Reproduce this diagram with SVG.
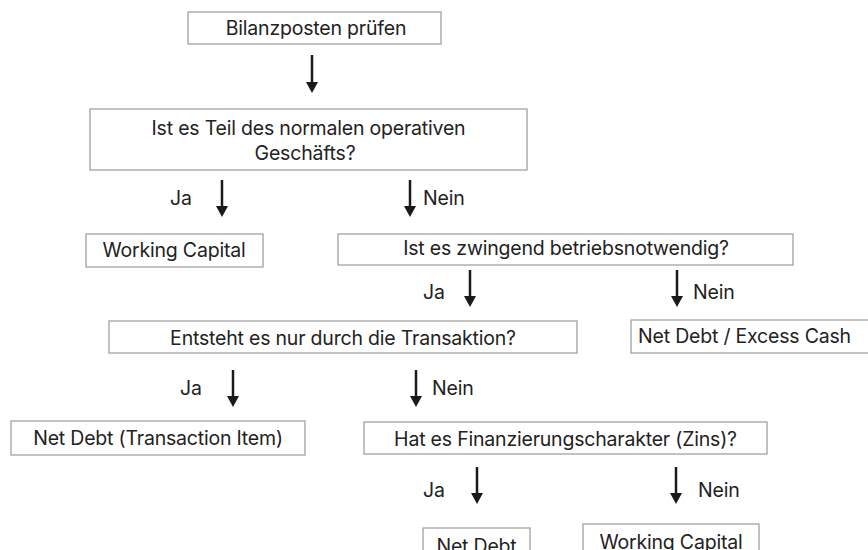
<svg xmlns="http://www.w3.org/2000/svg" width="868" height="550" viewBox="0 0 868 550">
<defs>
<style>
.box{fill:#fff;stroke:#9a9a9a;stroke-width:1.2}
.t{font-family:Inter,"Liberation Sans",Arial,sans-serif;font-size:19.5px;fill:#222;text-anchor:middle;letter-spacing:-0.2px}
.l{font-family:Inter,"Liberation Sans",Arial,sans-serif;font-size:19.5px;fill:#222;letter-spacing:-0.2px}
.a{stroke:#1a1a1a;stroke-width:2.5;fill:none}
.h{fill:#1a1a1a}
</style>
</defs>
<rect width="868" height="550" fill="#fff"/>
<g id="connectors">
<path class="a" d="M312,55 V83"/><path class="h" d="M306,82 H318 L312,93 Z"/>
<path class="a" d="M222,180 V207"/><path class="h" d="M216,206 H228 L222,217 Z"/>
<path class="a" d="M410,180 V207"/><path class="h" d="M404,206 H416 L410,217 Z"/>
<path class="a" d="M470,270 V297"/><path class="h" d="M464,296 H476 L470,307 Z"/>
<path class="a" d="M677,270 V297"/><path class="h" d="M671,296 H683 L677,307 Z"/>
<path class="a" d="M233,370 V397"/><path class="h" d="M227,396 H239 L233,407 Z"/>
<path class="a" d="M416,370 V397"/><path class="h" d="M410,396 H422 L416,407 Z"/>
<path class="a" d="M477,467 V494"/><path class="h" d="M471,493 H483 L477,504 Z"/>
<path class="a" d="M676,467 V494"/><path class="h" d="M670,493 H682 L676,504 Z"/>
<text class="l" x="170" y="205">Ja</text>
<text class="l" x="423" y="205">Nein</text>
<text class="l" x="423" y="299">Ja</text>
<text class="l" x="693" y="299">Nein</text>
<text class="l" x="180" y="395">Ja</text>
<text class="l" x="432" y="395">Nein</text>
<text class="l" x="423" y="497">Ja</text>
<text class="l" x="698" y="497">Nein</text>
</g>
<g id="start">
<rect class="box" x="188" y="12" width="253" height="32"/>
<text class="t" x="316" y="35">Bilanzposten prüfen</text>
</g>
<g id="q1">
<rect class="box" x="90" y="109" width="437" height="61"/>
<text class="t" x="308.5" y="135">Ist es Teil des normalen operativen</text>
<text class="t" x="305" y="160">Geschäfts?</text>
</g>
<g id="wc1">
<rect class="box" x="86" y="234" width="177" height="33"/>
<text class="t" x="174" y="257">Working Capital</text>
</g>
<g id="q2">
<rect class="box" x="338" y="234" width="455" height="31"/>
<text class="t" x="566" y="255">Ist es zwingend betriebsnotwendig?</text>
</g>
<g id="q3">
<rect class="box" x="109" y="321" width="468" height="32"/>
<text class="t" x="343" y="345">Entsteht es nur durch die Transaktion?</text>
</g>
<g id="nd-excess">
<rect class="box" x="631" y="320" width="250" height="33"/>
<text class="t" x="744.5" y="343">Net Debt / Excess Cash</text>
</g>
<g id="nd-ti">
<rect class="box" x="11" y="421" width="294" height="34"/>
<text class="t" x="158" y="445">Net Debt (Transaction Item)</text>
</g>
<g id="q4">
<rect class="box" x="364" y="422" width="403" height="32"/>
<text class="t" x="565.5" y="446">Hat es Finanzierungscharakter (Zins)?</text>
</g>
<g id="nd">
<rect class="box" x="423" y="528" width="107" height="34"/>
<text class="t" x="476.5" y="553">Net Debt</text>
</g>
<g id="wc2">
<rect class="box" x="583" y="524" width="176" height="34"/>
<text class="t" x="671" y="549">Working Capital</text>
</g>
</svg>
